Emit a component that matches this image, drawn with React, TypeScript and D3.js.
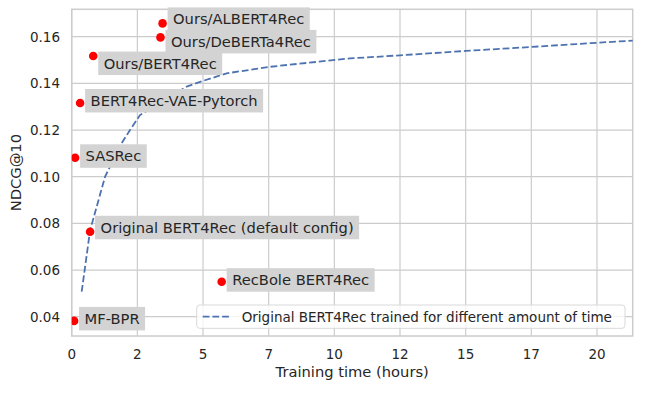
import * as d3 from "d3";

const models = [
  "Ours/ALBERT4Rec",
  "Ours/DeBERTa4Rec",
  "Ours/BERT4Rec",
  "BERT4Rec-VAE-Pytorch",
  "SASRec",
  "Original BERT4Rec (default config)",
  "RecBole BERT4Rec",
  "MF-BPR",
];
const trainHours = [3.46, 3.38, 0.82, 0.32, 0.13, 0.7, 5.71, 0.09];
const ndcgScores = [0.1657, 0.1597, 0.1517, 0.1316, 0.1081, 0.0764, 0.055, 0.0382];

// original BERT4Rec trained for different amounts of time
const curveHours = [0.38, 0.7, 1.27, 1.9, 2.22, 2.6, 4.38, 5.01, 5.9, 7.55, 10.6, 12.5, 15, 17.5, 20, 21.5];
const curveNdcg = [
  0.0507, 0.077, 0.1, 0.1143, 0.12, 0.1264, 0.1386, 0.1411, 0.1443, 0.1471, 0.1507, 0.152, 0.1539,
  0.1556, 0.1574, 0.1584,
];

const xTicks = [0, 2.5, 5, 7.5, 10, 12.5, 15, 17.5, 20];
const yTicks = [0.04, 0.06, 0.08, 0.1, 0.12, 0.14, 0.16];

// vertical nudge of each annotation (px), as placed in the figure
const labelDy = [1, 9.5, 12.5, 3, 3.5, 1, 3.5, 3];

const W = 655;
const H = 394;
const m = { left: 71.7, right: 632.7, top: 9.3, bottom: 336 };
const FONT = "'DejaVu Sans', sans-serif";
const INK = "#262626";
const GRID = "#cccccc";
const BLUE = "#4c72b0";

const measure = (() => {
  const ctx = document.createElement("canvas").getContext("2d");
  return (s: string, size: number) => {
    if (!ctx) return s.length * size * 0.6;
    ctx.font = `${size}px "DejaVu Sans"`;
    return ctx.measureText(s).width;
  };
})();

const App = () => {
  const x = d3.scaleLinear().domain([0, 21.36]).range([m.left, m.right]);
  const y = d3.scaleLinear().domain([0.03173, 0.17174]).range([m.bottom, m.top]);

  const line = d3
    .line<number>()
    .x((_, i) => x(curveHours[i]))
    .y((d) => y(d));

  const annFont = 14.7;

  return (
    <svg
      width={W}
      height={H}
      viewBox={`0 0 ${W} ${H}`}
      style={{ position: "absolute", left: 0, top: 0, background: "#fff" }}
      fontFamily={FONT}
    >
      <defs>
        <clipPath id="plot">
          <rect x={m.left} y={m.top} width={m.right - m.left} height={m.bottom - m.top} />
        </clipPath>
      </defs>

      {/* grid */}
      {xTicks.map((t) => (
        <line key={"gx" + t} x1={x(t)} x2={x(t)} y1={m.top} y2={m.bottom} stroke={GRID} strokeWidth={1.2} />
      ))}
      {yTicks.map((t) => (
        <line key={"gy" + t} x1={m.left} x2={m.right} y1={y(t)} y2={y(t)} stroke={GRID} strokeWidth={1.2} />
      ))}
      <rect
        x={m.left}
        y={m.top}
        width={m.right - m.left}
        height={m.bottom - m.top}
        fill="none"
        stroke={GRID}
        strokeWidth={1.5}
      />

      {/* tick labels */}
      {xTicks.map((t) => (
        <text key={"tx" + t} x={x(t)} y={359} textAnchor="middle" fontSize={13.5} fill={INK}>
          {Math.trunc(t)}
        </text>
      ))}
      {yTicks.map((t) => (
        <text key={"ty" + t} x={60} y={y(t) + 4.9} textAnchor="end" fontSize={13.5} fill={INK}>
          {t.toFixed(2)}
        </text>
      ))}

      <text x={(m.left + m.right) / 2} y={377} textAnchor="middle" fontSize={14.7} fill={INK}>
        Training time (hours)
      </text>
      <text
        transform={`translate(21, ${(m.top + m.bottom) / 2}) rotate(-90)`}
        textAnchor="middle"
        fontSize={14.7}
        fill={INK}
      >
        NDCG@10
      </text>

      {/* curve */}
      <path
        d={line(curveNdcg) ?? undefined}
        fill="none"
        stroke={BLUE}
        strokeWidth={1.8}
        strokeDasharray="6.8,2.9"
        clipPath="url(#plot)"
      />

      {/* points */}
      {models.map((name, i) => (
        <circle key={name} cx={x(trainHours[i])} cy={y(ndcgScores[i])} r={4.3} fill="red" clipPath="url(#plot)" />
      ))}

      {/* annotations */}
      {models.map((name, i) => {
        const tx = x(trainHours[i]) + 10.5;
        const by = y(ndcgScores[i]) + labelDy[i];
        const w = measure(name, annFont);
        return (
          <g key={"a" + name}>
            <rect x={tx - 5.5} y={by - 17} width={w + 11} height={23.5} fill="#d3d3d3" />
            <text x={tx} y={by} fontSize={annFont} fill={INK}>
              {name}
            </text>
          </g>
        );
      })}

      {/* legend */}
      <rect
        x={196.7}
        y={305}
        width={428.3}
        height={23.3}
        rx={3}
        fill="#fff"
        fillOpacity={0.8}
        stroke="#d9d9d9"
        strokeWidth={1}
      />
      <line x1={202.7} x2={229.3} y1={316.7} y2={316.7} stroke={BLUE} strokeWidth={1.8} strokeDasharray="6.8,2.9" />
      <text x={241.7} y={321.5} fontSize={13.5} fill={INK}>
        Original BERT4Rec trained for different amount of time
      </text>
    </svg>
  );
};

export default App;
